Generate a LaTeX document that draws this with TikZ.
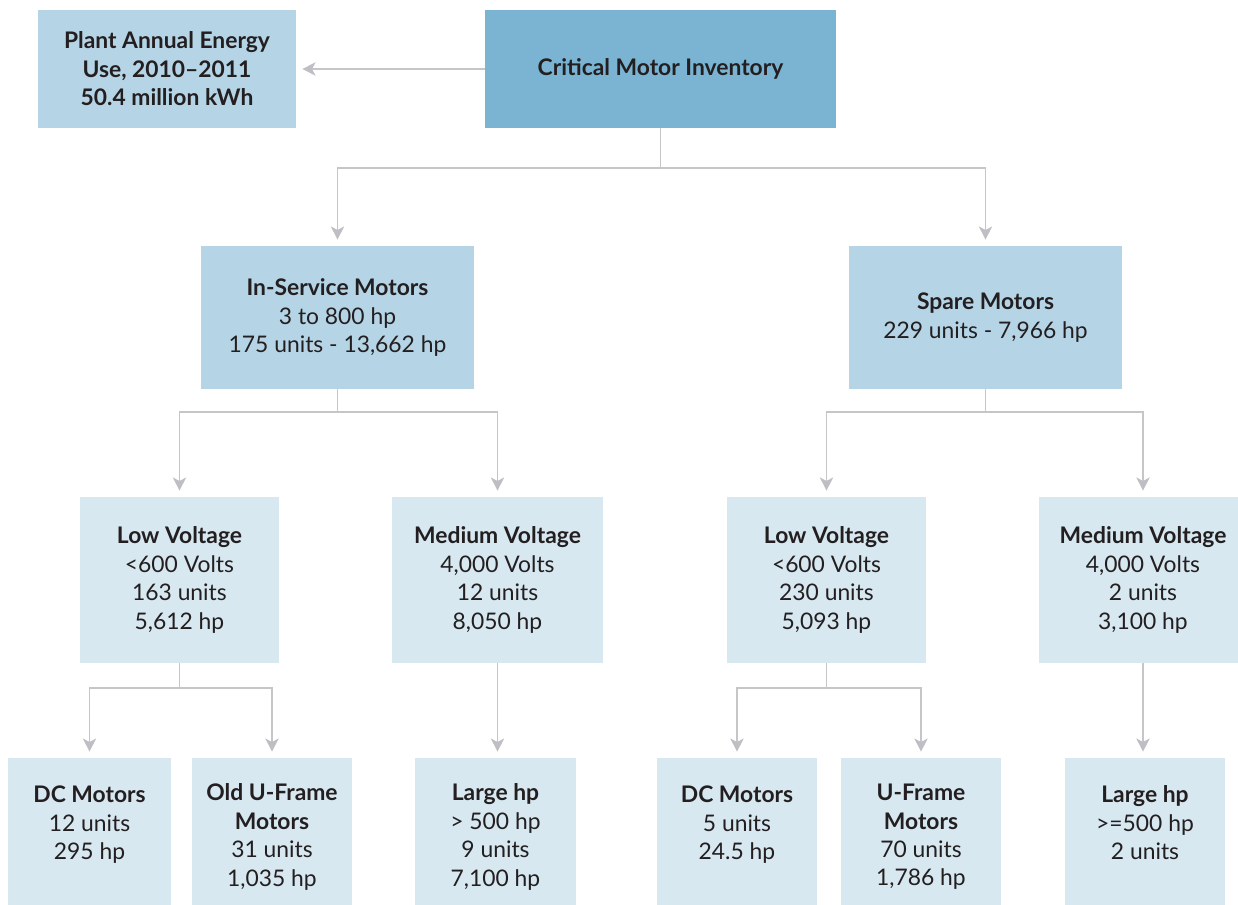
\documentclass[tikz,border=0pt]{standalone}
\usepackage{fontspec}
\setmainfont{Lato}
\usetikzlibrary{arrows.meta}
\definecolor{BoxTop}{HTML}{7AB4D2}
\definecolor{BoxMid}{HTML}{B5D5E7}
\definecolor{BoxLow}{HTML}{D7E8F1}
\definecolor{LinkGray}{HTML}{C6C6C8}
\definecolor{TipGray}{HTML}{BDBFC4}
\definecolor{TextDark}{HTML}{231F20}

\begin{document}
\begin{tikzpicture}[x=0.02cm,y=-0.02cm,line join=miter,
  box/.style={inner sep=0pt,align=center,text=TextDark,font=\fontsize{13}{16.2}\selectfont},
  link/.style={LinkGray,line width=1.1pt,-{Stealth[length=7.5pt,width=7.5pt,inset=2pt,color=TipGray]},shorten >=3.4pt}]
  \useasboundingbox (0,0) rectangle (1238,905);
  % top row
  \node[box,fill=BoxMid,minimum width=5.16cm,minimum height=2.36cm] (plant) at (167,69) {\textbf{Plant Annual Energy}\\\textbf{Use, 2010--2011}\\\textbf{50.4 million kWh}};
  \node[box,fill=BoxTop,minimum width=7.02cm,minimum height=2.36cm] (crit) at (660.5,69) {\textbf{Critical Motor Inventory}};
  % second row
  \node[box,fill=BoxMid,minimum width=5.46cm,minimum height=2.86cm] (inserv) at (337.5,317.5) {\textbf{In-Service Motors}\\3 to 800 hp\\175 units - 13,662 hp};
  \node[box,fill=BoxMid,minimum width=5.46cm,minimum height=2.86cm] (spare) at (985.5,317.5) {\textbf{Spare Motors}\\229 units - 7,966 hp};
  % voltage row
  \node[box,fill=BoxLow,minimum width=3.98cm,minimum height=3.32cm] (lowin) at (179.5,580) {\textbf{Low Voltage}\\<600 Volts\\163 units\\5,612 hp};
  \node[box,fill=BoxLow,minimum width=4.22cm,minimum height=3.32cm] (medin) at (497.5,580) {\textbf{Medium Voltage}\\4,000 Volts\\12 units\\8,050 hp};
  \node[box,fill=BoxLow,minimum width=3.98cm,minimum height=3.32cm] (lowsp) at (826.5,580) {\textbf{Low Voltage}\\<600 Volts\\230 units\\5,093 hp};
  \node[box,fill=BoxLow,minimum width=4.16cm,minimum height=3.32cm] (medsp) at (1143,580) {\textbf{Medium Voltage}\\4,000 Volts\\2 units\\3,100 hp};
  % bottom row
  \node[box,fill=BoxLow,minimum width=3.26cm,minimum height=3.16cm] (dcin) at (89.5,837) {\textbf{DC Motors}\\12 units\\295 hp\\\mbox{}};
  \node[box,fill=BoxLow,minimum width=3.2cm,minimum height=3.16cm] (ufin) at (272,837) {\textbf{Old U-Frame}\\\textbf{Motors}\\31 units\\1,035 hp};
  \node[box,fill=BoxLow,minimum width=3.22cm,minimum height=3.16cm] (bigin) at (495.5,837) {\textbf{Large hp}\\> 500 hp\\9 units\\7,100 hp};
  \node[box,fill=BoxLow,minimum width=3.2cm,minimum height=3.16cm] (dcsp) at (737,837) {\textbf{DC Motors}\\5 units\\24.5 hp\\\mbox{}};
  \node[box,fill=BoxLow,minimum width=3.2cm,minimum height=3.16cm] (ufsp) at (921,837) {\textbf{U-Frame}\\\textbf{Motors}\\70 units\\1,786 hp};
  \node[box,fill=BoxLow,minimum width=3.2cm,minimum height=3.16cm] (bigsp) at (1145,837) {\textbf{Large hp}\\>=500 hp\\2 units\\\mbox{}};
  % connectors
  \draw[link] (crit.west) -- (plant.east);
  \draw[link] (crit.south) -- ++(0,40) -| (inserv.north);
  \draw[link] (crit.south) -- ++(0,40) -| (spare.north);
  \draw[link] (inserv.south) -- ++(0,23) -| (lowin.north);
  \draw[link] (inserv.south) -- ++(0,23) -| (medin.north);
  \draw[link] (spare.south) -- ++(0,23) -| (lowsp.north);
  \draw[link] (spare.south) -- ++(0,23) -| (medsp.north);
  \draw[link] (lowin.south) -- ++(0,25) -| (dcin.north);
  \draw[link] (lowin.south) -- ++(0,25) -| (ufin.north);
  \draw[link] (medin.south) -- (bigin.north -| medin.south);
  \draw[link] (lowsp.south) -- ++(0,25) -| (dcsp.north);
  \draw[link] (lowsp.south) -- ++(0,25) -| (ufsp.north);
  \draw[link] (medsp.south) -- (bigsp.north -| medsp.south);
\end{tikzpicture}
\end{document}
